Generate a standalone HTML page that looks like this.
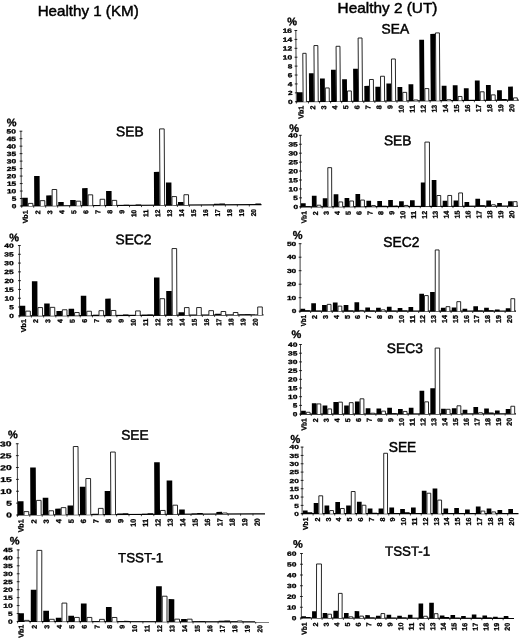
<!DOCTYPE html>
<html lang="en"><head><meta charset="utf-8"><title>Healthy 1 (KM) / Healthy 2 (UT)</title>
<style>html,body{margin:0;padding:0;background:#fff}body{width:520px;height:639px;overflow:hidden}svg text{font-family:"Liberation Sans",sans-serif}</style></head>
<body>
<svg width="520" height="639" viewBox="0 0 520 639" style="display:block">
<rect width="520" height="639" fill="#fff"/>
<text x="37.7" y="16.3" font-size="14.5" textLength="101" lengthAdjust="spacingAndGlyphs" fill="#000" stroke="#000" stroke-width="0.45">Healthy 1 (KM)</text>
<text x="337.6" y="12.6" font-size="14.5" textLength="99.8" lengthAdjust="spacingAndGlyphs" fill="#000" stroke="#000" stroke-width="0.45">Healthy 2 (UT)</text>
<g transform="rotate(-0.33 21.25 206)">
<text x="116.4" y="136.9" font-size="13.8" fill="#000" stroke="#000" stroke-width="0.45">SEB</text>
<text x="17" y="126.1" font-size="11" font-weight="bold" text-anchor="end" fill="#000" stroke="#000" stroke-width="0.3">%</text>
<path d="M21.35 130.9V206" stroke="#111" stroke-width="0.8" fill="none"/>
<text x="16.4" y="208.2" font-size="6" font-weight="bold" text-anchor="end" textLength="4.61" lengthAdjust="spacingAndGlyphs" fill="#000" stroke="#000" stroke-width="0.3">0</text>
<text x="16.4" y="200.72" font-size="6" font-weight="bold" text-anchor="end" textLength="4.61" lengthAdjust="spacingAndGlyphs" fill="#000" stroke="#000" stroke-width="0.3">5</text>
<text x="16.4" y="193.24" font-size="6" font-weight="bold" text-anchor="end" textLength="9.4" lengthAdjust="spacingAndGlyphs" fill="#000" stroke="#000" stroke-width="0.3">10</text>
<text x="16.4" y="185.76" font-size="6" font-weight="bold" text-anchor="end" textLength="9.4" lengthAdjust="spacingAndGlyphs" fill="#000" stroke="#000" stroke-width="0.3">15</text>
<text x="16.4" y="178.28" font-size="6" font-weight="bold" text-anchor="end" textLength="9.4" lengthAdjust="spacingAndGlyphs" fill="#000" stroke="#000" stroke-width="0.3">20</text>
<text x="16.4" y="170.8" font-size="6" font-weight="bold" text-anchor="end" textLength="9.4" lengthAdjust="spacingAndGlyphs" fill="#000" stroke="#000" stroke-width="0.3">25</text>
<text x="16.4" y="163.32" font-size="6" font-weight="bold" text-anchor="end" textLength="9.4" lengthAdjust="spacingAndGlyphs" fill="#000" stroke="#000" stroke-width="0.3">30</text>
<text x="16.4" y="155.84" font-size="6" font-weight="bold" text-anchor="end" textLength="9.4" lengthAdjust="spacingAndGlyphs" fill="#000" stroke="#000" stroke-width="0.3">35</text>
<text x="16.4" y="148.36" font-size="6" font-weight="bold" text-anchor="end" textLength="9.4" lengthAdjust="spacingAndGlyphs" fill="#000" stroke="#000" stroke-width="0.3">40</text>
<text x="16.4" y="140.88" font-size="6" font-weight="bold" text-anchor="end" textLength="9.4" lengthAdjust="spacingAndGlyphs" fill="#000" stroke="#000" stroke-width="0.3">45</text>
<text x="16.4" y="133.4" font-size="6" font-weight="bold" text-anchor="end" textLength="9.4" lengthAdjust="spacingAndGlyphs" fill="#000" stroke="#000" stroke-width="0.3">50</text>
<path d="M19.95 206h2.8M19.95 198.52h2.8M19.95 191.04h2.8M19.95 183.56h2.8M19.95 176.08h2.8M19.95 168.6h2.8M19.95 161.12h2.8M19.95 153.64h2.8M19.95 146.16h2.8M19.95 138.68h2.8M19.95 131.2h2.8" stroke="#111" stroke-width="0.9" fill="none"/>
<path d="M20.85 206H261.5" stroke="#000" stroke-width="1.2" fill="none"/>
<text transform="translate(27.7 210.4) rotate(-90)" font-size="7.0" font-weight="bold" text-anchor="end" textLength="13" lengthAdjust="spacingAndGlyphs" fill="#000" stroke="#000" stroke-width="0.3">Vb1</text>
<text transform="translate(40.28 210.4) rotate(-90)" font-size="7.0" font-weight="bold" text-anchor="end" fill="#000" stroke="#000" stroke-width="0.3">2</text>
<text transform="translate(52.26 210.4) rotate(-90)" font-size="7.0" font-weight="bold" text-anchor="end" fill="#000" stroke="#000" stroke-width="0.3">3</text>
<text transform="translate(64.24 210.4) rotate(-90)" font-size="7.0" font-weight="bold" text-anchor="end" fill="#000" stroke="#000" stroke-width="0.3">4</text>
<text transform="translate(76.22 210.4) rotate(-90)" font-size="7.0" font-weight="bold" text-anchor="end" fill="#000" stroke="#000" stroke-width="0.3">5</text>
<text transform="translate(88.2 210.4) rotate(-90)" font-size="7.0" font-weight="bold" text-anchor="end" fill="#000" stroke="#000" stroke-width="0.3">6</text>
<text transform="translate(100.18 210.4) rotate(-90)" font-size="7.0" font-weight="bold" text-anchor="end" fill="#000" stroke="#000" stroke-width="0.3">7</text>
<text transform="translate(112.16 210.4) rotate(-90)" font-size="7.0" font-weight="bold" text-anchor="end" fill="#000" stroke="#000" stroke-width="0.3">8</text>
<text transform="translate(124.14 210.4) rotate(-90)" font-size="7.0" font-weight="bold" text-anchor="end" fill="#000" stroke="#000" stroke-width="0.3">9</text>
<text transform="translate(136.12 210.4) rotate(-90)" font-size="7.0" font-weight="bold" text-anchor="end" textLength="7.3" lengthAdjust="spacingAndGlyphs" fill="#000" stroke="#000" stroke-width="0.3">10</text>
<text transform="translate(148.1 210.4) rotate(-90)" font-size="7.0" font-weight="bold" text-anchor="end" textLength="7.3" lengthAdjust="spacingAndGlyphs" fill="#000" stroke="#000" stroke-width="0.3">11</text>
<text transform="translate(160.08 210.4) rotate(-90)" font-size="7.0" font-weight="bold" text-anchor="end" textLength="7.3" lengthAdjust="spacingAndGlyphs" fill="#000" stroke="#000" stroke-width="0.3">12</text>
<text transform="translate(172.06 210.4) rotate(-90)" font-size="7.0" font-weight="bold" text-anchor="end" textLength="7.3" lengthAdjust="spacingAndGlyphs" fill="#000" stroke="#000" stroke-width="0.3">13</text>
<text transform="translate(184.04 210.4) rotate(-90)" font-size="7.0" font-weight="bold" text-anchor="end" textLength="7.3" lengthAdjust="spacingAndGlyphs" fill="#000" stroke="#000" stroke-width="0.3">14</text>
<text transform="translate(196.02 210.4) rotate(-90)" font-size="7.0" font-weight="bold" text-anchor="end" textLength="7.3" lengthAdjust="spacingAndGlyphs" fill="#000" stroke="#000" stroke-width="0.3">15</text>
<text transform="translate(208 210.4) rotate(-90)" font-size="7.0" font-weight="bold" text-anchor="end" textLength="7.3" lengthAdjust="spacingAndGlyphs" fill="#000" stroke="#000" stroke-width="0.3">16</text>
<text transform="translate(219.98 210.4) rotate(-90)" font-size="7.0" font-weight="bold" text-anchor="end" textLength="7.3" lengthAdjust="spacingAndGlyphs" fill="#000" stroke="#000" stroke-width="0.3">17</text>
<text transform="translate(231.96 210.4) rotate(-90)" font-size="7.0" font-weight="bold" text-anchor="end" textLength="7.3" lengthAdjust="spacingAndGlyphs" fill="#000" stroke="#000" stroke-width="0.3">18</text>
<text transform="translate(243.94 210.4) rotate(-90)" font-size="7.0" font-weight="bold" text-anchor="end" textLength="7.3" lengthAdjust="spacingAndGlyphs" fill="#000" stroke="#000" stroke-width="0.3">19</text>
<text transform="translate(255.92 210.4) rotate(-90)" font-size="7.0" font-weight="bold" text-anchor="end" textLength="7.3" lengthAdjust="spacingAndGlyphs" fill="#000" stroke="#000" stroke-width="0.3">20</text>
<path d="M22.3 206h5.5v-8.23h-5.5zM34.28 206h5.5v-29.92h-5.5zM46.26 206h5.5v-10.47h-5.5zM58.24 206h5.5v-3.74h-5.5zM70.22 206h5.5v-5.68h-5.5zM82.2 206h5.5v-17.5h-5.5zM106.16 206h5.5v-14.51h-5.5zM118.14 206h5.5v-0.45h-5.5zM123.64 206h5.5v-0.75h-5.5zM130.12 206h5.5v-0.45h-5.5zM135.62 206h5.5v-0.75h-5.5zM154.08 206h5.5v-33.36h-5.5zM166.06 206h5.5v-22.74h-5.5zM178.04 206h5.5v-2.99h-5.5zM213.98 206h5.5v-1.05h-5.5zM219.48 206h5.5v-1.35h-5.5zM255.42 206h5.5v-1.05h-5.5z" fill="#000"/>
<path d="M28.25 206v-2.54h4.6V206M40.23 206v-5.23h4.6V206M52.21 206v-16.31h4.6V206M76.17 206v-4.49h4.6V206M88.15 206v-10.77h4.6V206M100.13 206v-6.28h4.6V206M112.11 206v-5.09h4.6V206M160.03 206v-76.29h4.6V206M172.01 206v-8.53h4.6V206M183.99 206v-10.32h4.6V206" fill="#fff" stroke="#111" stroke-width="0.9"/>
<path d="M21.7 206v1.8M33.68 206v1.8M45.66 206v1.8M57.64 206v1.8M69.62 206v1.8M81.6 206v1.8M93.58 206v1.8M105.56 206v1.8M117.54 206v1.8M129.52 206v1.8M141.5 206v1.8M153.48 206v1.8M165.46 206v1.8M177.44 206v1.8M189.42 206v1.8M201.4 206v1.8M213.38 206v1.8M225.36 206v1.8M237.34 206v1.8M249.32 206v1.8" stroke="#111" stroke-width="0.8" fill="none"/>
</g>
<g transform="rotate(-0.2 19.5 315.8)">
<text x="115.7" y="244.6" font-size="13.8" fill="#000" stroke="#000" stroke-width="0.45">SEC2</text>
<text x="19.4" y="241.3" font-size="11" font-weight="bold" text-anchor="end" fill="#000" stroke="#000" stroke-width="0.3">%</text>
<path d="M19.6 245.2V315.8" stroke="#111" stroke-width="0.8" fill="none"/>
<text x="13.9" y="318" font-size="6" font-weight="bold" text-anchor="end" textLength="4.61" lengthAdjust="spacingAndGlyphs" fill="#000" stroke="#000" stroke-width="0.3">0</text>
<text x="13.9" y="309.21" font-size="6" font-weight="bold" text-anchor="end" textLength="4.61" lengthAdjust="spacingAndGlyphs" fill="#000" stroke="#000" stroke-width="0.3">5</text>
<text x="13.9" y="300.43" font-size="6" font-weight="bold" text-anchor="end" textLength="9.4" lengthAdjust="spacingAndGlyphs" fill="#000" stroke="#000" stroke-width="0.3">10</text>
<text x="13.9" y="291.64" font-size="6" font-weight="bold" text-anchor="end" textLength="9.4" lengthAdjust="spacingAndGlyphs" fill="#000" stroke="#000" stroke-width="0.3">15</text>
<text x="13.9" y="282.85" font-size="6" font-weight="bold" text-anchor="end" textLength="9.4" lengthAdjust="spacingAndGlyphs" fill="#000" stroke="#000" stroke-width="0.3">20</text>
<text x="13.9" y="274.06" font-size="6" font-weight="bold" text-anchor="end" textLength="9.4" lengthAdjust="spacingAndGlyphs" fill="#000" stroke="#000" stroke-width="0.3">25</text>
<text x="13.9" y="265.27" font-size="6" font-weight="bold" text-anchor="end" textLength="9.4" lengthAdjust="spacingAndGlyphs" fill="#000" stroke="#000" stroke-width="0.3">30</text>
<text x="13.9" y="256.49" font-size="6" font-weight="bold" text-anchor="end" textLength="9.4" lengthAdjust="spacingAndGlyphs" fill="#000" stroke="#000" stroke-width="0.3">35</text>
<text x="13.9" y="247.7" font-size="6" font-weight="bold" text-anchor="end" textLength="9.4" lengthAdjust="spacingAndGlyphs" fill="#000" stroke="#000" stroke-width="0.3">40</text>
<path d="M18.2 315.8h2.8M18.2 307.01h2.8M18.2 298.23h2.8M18.2 289.44h2.8M18.2 280.65h2.8M18.2 271.86h2.8M18.2 263.07h2.8M18.2 254.29h2.8M18.2 245.5h2.8" stroke="#111" stroke-width="0.9" fill="none"/>
<path d="M19.1 315.8H263.5" stroke="#000" stroke-width="1.2" fill="none"/>
<text transform="translate(25.9 319.2) rotate(-90)" font-size="7.0" font-weight="bold" text-anchor="end" textLength="13" lengthAdjust="spacingAndGlyphs" fill="#000" stroke="#000" stroke-width="0.3">Vb1</text>
<text transform="translate(38.01 319.2) rotate(-90)" font-size="7.0" font-weight="bold" text-anchor="end" fill="#000" stroke="#000" stroke-width="0.3">2</text>
<text transform="translate(50.22 319.2) rotate(-90)" font-size="7.0" font-weight="bold" text-anchor="end" fill="#000" stroke="#000" stroke-width="0.3">3</text>
<text transform="translate(62.43 319.2) rotate(-90)" font-size="7.0" font-weight="bold" text-anchor="end" fill="#000" stroke="#000" stroke-width="0.3">4</text>
<text transform="translate(74.64 319.2) rotate(-90)" font-size="7.0" font-weight="bold" text-anchor="end" fill="#000" stroke="#000" stroke-width="0.3">5</text>
<text transform="translate(86.85 319.2) rotate(-90)" font-size="7.0" font-weight="bold" text-anchor="end" fill="#000" stroke="#000" stroke-width="0.3">6</text>
<text transform="translate(99.06 319.2) rotate(-90)" font-size="7.0" font-weight="bold" text-anchor="end" fill="#000" stroke="#000" stroke-width="0.3">7</text>
<text transform="translate(111.27 319.2) rotate(-90)" font-size="7.0" font-weight="bold" text-anchor="end" fill="#000" stroke="#000" stroke-width="0.3">8</text>
<text transform="translate(123.48 319.2) rotate(-90)" font-size="7.0" font-weight="bold" text-anchor="end" fill="#000" stroke="#000" stroke-width="0.3">9</text>
<text transform="translate(135.69 319.2) rotate(-90)" font-size="7.0" font-weight="bold" text-anchor="end" textLength="7.3" lengthAdjust="spacingAndGlyphs" fill="#000" stroke="#000" stroke-width="0.3">10</text>
<text transform="translate(147.9 319.2) rotate(-90)" font-size="7.0" font-weight="bold" text-anchor="end" textLength="7.3" lengthAdjust="spacingAndGlyphs" fill="#000" stroke="#000" stroke-width="0.3">11</text>
<text transform="translate(160.11 319.2) rotate(-90)" font-size="7.0" font-weight="bold" text-anchor="end" textLength="7.3" lengthAdjust="spacingAndGlyphs" fill="#000" stroke="#000" stroke-width="0.3">12</text>
<text transform="translate(172.32 319.2) rotate(-90)" font-size="7.0" font-weight="bold" text-anchor="end" textLength="7.3" lengthAdjust="spacingAndGlyphs" fill="#000" stroke="#000" stroke-width="0.3">13</text>
<text transform="translate(184.53 319.2) rotate(-90)" font-size="7.0" font-weight="bold" text-anchor="end" textLength="7.3" lengthAdjust="spacingAndGlyphs" fill="#000" stroke="#000" stroke-width="0.3">14</text>
<text transform="translate(196.74 319.2) rotate(-90)" font-size="7.0" font-weight="bold" text-anchor="end" textLength="7.3" lengthAdjust="spacingAndGlyphs" fill="#000" stroke="#000" stroke-width="0.3">15</text>
<text transform="translate(208.95 319.2) rotate(-90)" font-size="7.0" font-weight="bold" text-anchor="end" textLength="7.3" lengthAdjust="spacingAndGlyphs" fill="#000" stroke="#000" stroke-width="0.3">16</text>
<text transform="translate(221.16 319.2) rotate(-90)" font-size="7.0" font-weight="bold" text-anchor="end" textLength="7.3" lengthAdjust="spacingAndGlyphs" fill="#000" stroke="#000" stroke-width="0.3">17</text>
<text transform="translate(233.37 319.2) rotate(-90)" font-size="7.0" font-weight="bold" text-anchor="end" textLength="7.3" lengthAdjust="spacingAndGlyphs" fill="#000" stroke="#000" stroke-width="0.3">18</text>
<text transform="translate(245.58 319.2) rotate(-90)" font-size="7.0" font-weight="bold" text-anchor="end" textLength="7.3" lengthAdjust="spacingAndGlyphs" fill="#000" stroke="#000" stroke-width="0.3">19</text>
<text transform="translate(257.79 319.2) rotate(-90)" font-size="7.0" font-weight="bold" text-anchor="end" textLength="7.3" lengthAdjust="spacingAndGlyphs" fill="#000" stroke="#000" stroke-width="0.3">20</text>
<path d="M19.8 315.8h5.5v-10.02h-5.5zM32.01 315.8h5.5v-34.45h-5.5zM44.22 315.8h5.5v-12.3h-5.5zM56.43 315.8h5.5v-4.75h-5.5zM68.64 315.8h5.5v-6.85h-5.5zM80.85 315.8h5.5v-19.86h-5.5zM93.06 315.8h5.5v-0.88h-5.5zM105.27 315.8h5.5v-16.87h-5.5zM117.48 315.8h5.5v-0.53h-5.5zM122.98 315.8h5.5v-0.83h-5.5zM141.9 315.8h5.5v-0.53h-5.5zM147.4 315.8h5.5v-0.83h-5.5zM154.11 315.8h5.5v-37.79h-5.5zM166.32 315.8h5.5v-24.25h-5.5zM178.53 315.8h5.5v-2.99h-5.5zM215.16 315.8h5.5v-1.41h-5.5zM239.58 315.8h5.5v-0.53h-5.5zM245.08 315.8h5.5v-0.83h-5.5z" fill="#000"/>
<path d="M25.75 315.8v-4.65h4.6V315.8M37.96 315.8v-8.16h4.6V315.8M50.17 315.8v-8.34h4.6V315.8M62.38 315.8v-5.88h4.6V315.8M74.59 315.8v-3.07h4.6V315.8M86.8 315.8v-4.3h4.6V315.8M99.01 315.8v-4.82h4.6V315.8M111.22 315.8v-5h4.6V315.8M135.64 315.8v-4.47h4.6V315.8M160.06 315.8v-16.6h4.6V315.8M172.27 315.8v-66.69h4.6V315.8M184.48 315.8v-7.63h4.6V315.8M196.69 315.8v-7.63h4.6V315.8M208.9 315.8v-4.47h4.6V315.8M221.11 315.8v-3.59h4.6V315.8M233.32 315.8v-2.54h4.6V315.8M257.74 315.8v-7.99h4.6V315.8" fill="#fff" stroke="#111" stroke-width="0.9"/>
<path d="M19.2 315.8v1.8M31.41 315.8v1.8M43.62 315.8v1.8M55.83 315.8v1.8M68.04 315.8v1.8M80.25 315.8v1.8M92.46 315.8v1.8M104.67 315.8v1.8M116.88 315.8v1.8M129.09 315.8v1.8M141.3 315.8v1.8M153.51 315.8v1.8M165.72 315.8v1.8M177.93 315.8v1.8M190.14 315.8v1.8M202.35 315.8v1.8M214.56 315.8v1.8M226.77 315.8v1.8M238.98 315.8v1.8M251.19 315.8v1.8" stroke="#111" stroke-width="0.8" fill="none"/>
</g>
<g transform="rotate(-0.28 17.5 515)">
<text x="121.5" y="440.3" font-size="13.8" fill="#000" stroke="#000" stroke-width="0.45">SEE</text>
<text x="18.1" y="438.2" font-size="11" font-weight="bold" text-anchor="end" fill="#000" stroke="#000" stroke-width="0.3">%</text>
<path d="M17.6 443.45V515" stroke="#111" stroke-width="0.8" fill="none"/>
<text x="11.9" y="517.57" font-size="7.0" font-weight="bold" text-anchor="end" textLength="5.63" lengthAdjust="spacingAndGlyphs" fill="#000" stroke="#000" stroke-width="0.3">0</text>
<text x="11.9" y="505.69" font-size="7.0" font-weight="bold" text-anchor="end" textLength="5.63" lengthAdjust="spacingAndGlyphs" fill="#000" stroke="#000" stroke-width="0.3">5</text>
<text x="11.9" y="493.82" font-size="7.0" font-weight="bold" text-anchor="end" textLength="11.5" lengthAdjust="spacingAndGlyphs" fill="#000" stroke="#000" stroke-width="0.3">10</text>
<text x="11.9" y="481.94" font-size="7.0" font-weight="bold" text-anchor="end" textLength="11.5" lengthAdjust="spacingAndGlyphs" fill="#000" stroke="#000" stroke-width="0.3">15</text>
<text x="11.9" y="470.07" font-size="7.0" font-weight="bold" text-anchor="end" textLength="11.5" lengthAdjust="spacingAndGlyphs" fill="#000" stroke="#000" stroke-width="0.3">20</text>
<text x="11.9" y="458.19" font-size="7.0" font-weight="bold" text-anchor="end" textLength="11.5" lengthAdjust="spacingAndGlyphs" fill="#000" stroke="#000" stroke-width="0.3">25</text>
<text x="11.9" y="446.32" font-size="7.0" font-weight="bold" text-anchor="end" textLength="11.5" lengthAdjust="spacingAndGlyphs" fill="#000" stroke="#000" stroke-width="0.3">30</text>
<path d="M16.2 515h2.8M16.2 503.12h2.8M16.2 491.25h2.8M16.2 479.38h2.8M16.2 467.5h2.8M16.2 455.62h2.8M16.2 443.75h2.8" stroke="#111" stroke-width="0.9" fill="none"/>
<path d="M17.1 515H265" stroke="#000" stroke-width="1.2" fill="none"/>
<text transform="translate(23.4 519.4) rotate(-90)" font-size="7.5" font-weight="bold" text-anchor="end" textLength="13" lengthAdjust="spacingAndGlyphs" fill="#000" stroke="#000" stroke-width="0.3">Vb1</text>
<text transform="translate(36.4 519.4) rotate(-90)" font-size="7.5" font-weight="bold" text-anchor="end" fill="#000" stroke="#000" stroke-width="0.3">2</text>
<text transform="translate(48.8 519.4) rotate(-90)" font-size="7.5" font-weight="bold" text-anchor="end" fill="#000" stroke="#000" stroke-width="0.3">3</text>
<text transform="translate(61.2 519.4) rotate(-90)" font-size="7.5" font-weight="bold" text-anchor="end" fill="#000" stroke="#000" stroke-width="0.3">4</text>
<text transform="translate(73.6 519.4) rotate(-90)" font-size="7.5" font-weight="bold" text-anchor="end" fill="#000" stroke="#000" stroke-width="0.3">5</text>
<text transform="translate(86 519.4) rotate(-90)" font-size="7.5" font-weight="bold" text-anchor="end" fill="#000" stroke="#000" stroke-width="0.3">6</text>
<text transform="translate(98.4 519.4) rotate(-90)" font-size="7.5" font-weight="bold" text-anchor="end" fill="#000" stroke="#000" stroke-width="0.3">7</text>
<text transform="translate(110.8 519.4) rotate(-90)" font-size="7.5" font-weight="bold" text-anchor="end" fill="#000" stroke="#000" stroke-width="0.3">8</text>
<text transform="translate(123.2 519.4) rotate(-90)" font-size="7.5" font-weight="bold" text-anchor="end" fill="#000" stroke="#000" stroke-width="0.3">9</text>
<text transform="translate(135.6 519.4) rotate(-90)" font-size="7.5" font-weight="bold" text-anchor="end" textLength="7.9" lengthAdjust="spacingAndGlyphs" fill="#000" stroke="#000" stroke-width="0.3">10</text>
<text transform="translate(148 519.4) rotate(-90)" font-size="7.5" font-weight="bold" text-anchor="end" textLength="7.9" lengthAdjust="spacingAndGlyphs" fill="#000" stroke="#000" stroke-width="0.3">11</text>
<text transform="translate(160.4 519.4) rotate(-90)" font-size="7.5" font-weight="bold" text-anchor="end" textLength="7.9" lengthAdjust="spacingAndGlyphs" fill="#000" stroke="#000" stroke-width="0.3">12</text>
<text transform="translate(172.8 519.4) rotate(-90)" font-size="7.5" font-weight="bold" text-anchor="end" textLength="7.9" lengthAdjust="spacingAndGlyphs" fill="#000" stroke="#000" stroke-width="0.3">13</text>
<text transform="translate(185.2 519.4) rotate(-90)" font-size="7.5" font-weight="bold" text-anchor="end" textLength="7.9" lengthAdjust="spacingAndGlyphs" fill="#000" stroke="#000" stroke-width="0.3">14</text>
<text transform="translate(197.6 519.4) rotate(-90)" font-size="7.5" font-weight="bold" text-anchor="end" textLength="7.9" lengthAdjust="spacingAndGlyphs" fill="#000" stroke="#000" stroke-width="0.3">15</text>
<text transform="translate(210 519.4) rotate(-90)" font-size="7.5" font-weight="bold" text-anchor="end" textLength="7.9" lengthAdjust="spacingAndGlyphs" fill="#000" stroke="#000" stroke-width="0.3">16</text>
<text transform="translate(222.4 519.4) rotate(-90)" font-size="7.5" font-weight="bold" text-anchor="end" textLength="7.9" lengthAdjust="spacingAndGlyphs" fill="#000" stroke="#000" stroke-width="0.3">17</text>
<text transform="translate(234.8 519.4) rotate(-90)" font-size="7.5" font-weight="bold" text-anchor="end" textLength="7.9" lengthAdjust="spacingAndGlyphs" fill="#000" stroke="#000" stroke-width="0.3">18</text>
<text transform="translate(247.2 519.4) rotate(-90)" font-size="7.5" font-weight="bold" text-anchor="end" textLength="7.9" lengthAdjust="spacingAndGlyphs" fill="#000" stroke="#000" stroke-width="0.3">19</text>
<text transform="translate(259.6 519.4) rotate(-90)" font-size="7.5" font-weight="bold" text-anchor="end" textLength="7.9" lengthAdjust="spacingAndGlyphs" fill="#000" stroke="#000" stroke-width="0.3">20</text>
<path d="M18 515h5.6v-13.78h-5.6zM30.4 515h5.6v-47.5h-5.6zM42.8 515h5.6v-17.1h-5.6zM55.2 515h5.6v-6.17h-5.6zM67.6 515h5.6v-9.26h-5.6zM80 515h5.6v-28.03h-5.6zM92.4 515h5.6v-0.95h-5.6zM104.8 515h5.6v-23.51h-5.6zM117.2 515h5.6v-0.95h-5.6zM122.8 515h5.6v-1.25h-5.6zM142 515h5.6v-0.71h-5.6zM147.6 515h5.6v-1.01h-5.6zM154.4 515h5.6v-52.01h-5.6zM166.8 515h5.6v-33.73h-5.6zM179.2 515h5.6v-4.75h-5.6zM191.6 515h5.6v-0.71h-5.6zM197.2 515h5.6v-1.01h-5.6zM216.4 515h5.6v-2.14h-5.6z" fill="#000"/>
<path d="M24.05 515v-3.35h4.7V515M36.45 515v-14.51h4.7V515M48.85 515v-4.06h4.7V515M61.25 515v-7.15h4.7V515M73.65 515v-68.19h4.7V515M86.05 515v-36.12h4.7V515M98.45 515v-6.2h4.7V515M110.85 515v-62.49h4.7V515M160.45 515v-3.83h4.7V515M172.85 515v-9.05h4.7V515M222.45 515v-0.98h4.7V515" fill="#fff" stroke="#111" stroke-width="0.9"/>
<path d="M17.4 515v1.8M29.8 515v1.8M42.2 515v1.8M54.6 515v1.8M67 515v1.8M79.4 515v1.8M91.8 515v1.8M104.2 515v1.8M116.6 515v1.8M129 515v1.8M141.4 515v1.8M153.8 515v1.8M166.2 515v1.8M178.6 515v1.8M191 515v1.8M203.4 515v1.8M215.8 515v1.8M228.2 515v1.8M240.6 515v1.8M253 515v1.8" stroke="#111" stroke-width="0.8" fill="none"/>
</g>
<g transform="rotate(0.08 18 621.5)">
<text x="118" y="562" font-size="13.3" fill="#000" stroke="#000" stroke-width="0.45">TSST-1</text>
<text x="19.4" y="544.6" font-size="11" font-weight="bold" text-anchor="end" fill="#000" stroke="#000" stroke-width="0.3">%</text>
<path d="M18.1 549.6V621.5" stroke="#111" stroke-width="0.8" fill="none"/>
<text x="12.6" y="623.7" font-size="6" font-weight="bold" text-anchor="end" textLength="4.61" lengthAdjust="spacingAndGlyphs" fill="#000" stroke="#000" stroke-width="0.3">0</text>
<text x="12.6" y="615.74" font-size="6" font-weight="bold" text-anchor="end" textLength="4.61" lengthAdjust="spacingAndGlyphs" fill="#000" stroke="#000" stroke-width="0.3">5</text>
<text x="12.6" y="607.79" font-size="6" font-weight="bold" text-anchor="end" textLength="9.4" lengthAdjust="spacingAndGlyphs" fill="#000" stroke="#000" stroke-width="0.3">10</text>
<text x="12.6" y="599.83" font-size="6" font-weight="bold" text-anchor="end" textLength="9.4" lengthAdjust="spacingAndGlyphs" fill="#000" stroke="#000" stroke-width="0.3">15</text>
<text x="12.6" y="591.88" font-size="6" font-weight="bold" text-anchor="end" textLength="9.4" lengthAdjust="spacingAndGlyphs" fill="#000" stroke="#000" stroke-width="0.3">20</text>
<text x="12.6" y="583.92" font-size="6" font-weight="bold" text-anchor="end" textLength="9.4" lengthAdjust="spacingAndGlyphs" fill="#000" stroke="#000" stroke-width="0.3">25</text>
<text x="12.6" y="575.97" font-size="6" font-weight="bold" text-anchor="end" textLength="9.4" lengthAdjust="spacingAndGlyphs" fill="#000" stroke="#000" stroke-width="0.3">30</text>
<text x="12.6" y="568.01" font-size="6" font-weight="bold" text-anchor="end" textLength="9.4" lengthAdjust="spacingAndGlyphs" fill="#000" stroke="#000" stroke-width="0.3">35</text>
<text x="12.6" y="560.06" font-size="6" font-weight="bold" text-anchor="end" textLength="9.4" lengthAdjust="spacingAndGlyphs" fill="#000" stroke="#000" stroke-width="0.3">40</text>
<text x="12.6" y="552.1" font-size="6" font-weight="bold" text-anchor="end" textLength="9.4" lengthAdjust="spacingAndGlyphs" fill="#000" stroke="#000" stroke-width="0.3">45</text>
<path d="M16.7 621.5h2.8M16.7 613.54h2.8M16.7 605.59h2.8M16.7 597.63h2.8M16.7 589.68h2.8M16.7 581.72h2.8M16.7 573.77h2.8M16.7 565.81h2.8M16.7 557.86h2.8M16.7 549.9h2.8" stroke="#111" stroke-width="0.9" fill="none"/>
<path d="M17.6 621.5H269" stroke="#000" stroke-width="1.2" fill="none"/>
<text transform="translate(23.62 624.8) rotate(-90)" font-size="7.0" font-weight="bold" text-anchor="end" textLength="13" lengthAdjust="spacingAndGlyphs" fill="#000" stroke="#000" stroke-width="0.3">Vb1</text>
<text transform="translate(36.75 624.8) rotate(-90)" font-size="7.0" font-weight="bold" text-anchor="end" fill="#000" stroke="#000" stroke-width="0.3">2</text>
<text transform="translate(49.28 624.8) rotate(-90)" font-size="7.0" font-weight="bold" text-anchor="end" fill="#000" stroke="#000" stroke-width="0.3">3</text>
<text transform="translate(61.81 624.8) rotate(-90)" font-size="7.0" font-weight="bold" text-anchor="end" fill="#000" stroke="#000" stroke-width="0.3">4</text>
<text transform="translate(74.34 624.8) rotate(-90)" font-size="7.0" font-weight="bold" text-anchor="end" fill="#000" stroke="#000" stroke-width="0.3">5</text>
<text transform="translate(86.87 624.8) rotate(-90)" font-size="7.0" font-weight="bold" text-anchor="end" fill="#000" stroke="#000" stroke-width="0.3">6</text>
<text transform="translate(99.4 624.8) rotate(-90)" font-size="7.0" font-weight="bold" text-anchor="end" fill="#000" stroke="#000" stroke-width="0.3">7</text>
<text transform="translate(111.93 624.8) rotate(-90)" font-size="7.0" font-weight="bold" text-anchor="end" fill="#000" stroke="#000" stroke-width="0.3">8</text>
<text transform="translate(124.46 624.8) rotate(-90)" font-size="7.0" font-weight="bold" text-anchor="end" fill="#000" stroke="#000" stroke-width="0.3">9</text>
<text transform="translate(136.99 624.8) rotate(-90)" font-size="7.0" font-weight="bold" text-anchor="end" textLength="7.3" lengthAdjust="spacingAndGlyphs" fill="#000" stroke="#000" stroke-width="0.3">10</text>
<text transform="translate(149.52 624.8) rotate(-90)" font-size="7.0" font-weight="bold" text-anchor="end" textLength="7.3" lengthAdjust="spacingAndGlyphs" fill="#000" stroke="#000" stroke-width="0.3">11</text>
<text transform="translate(162.05 624.8) rotate(-90)" font-size="7.0" font-weight="bold" text-anchor="end" textLength="7.3" lengthAdjust="spacingAndGlyphs" fill="#000" stroke="#000" stroke-width="0.3">12</text>
<text transform="translate(174.58 624.8) rotate(-90)" font-size="7.0" font-weight="bold" text-anchor="end" textLength="7.3" lengthAdjust="spacingAndGlyphs" fill="#000" stroke="#000" stroke-width="0.3">13</text>
<text transform="translate(187.11 624.8) rotate(-90)" font-size="7.0" font-weight="bold" text-anchor="end" textLength="7.3" lengthAdjust="spacingAndGlyphs" fill="#000" stroke="#000" stroke-width="0.3">14</text>
<text transform="translate(199.64 624.8) rotate(-90)" font-size="7.0" font-weight="bold" text-anchor="end" textLength="7.3" lengthAdjust="spacingAndGlyphs" fill="#000" stroke="#000" stroke-width="0.3">15</text>
<text transform="translate(212.17 624.8) rotate(-90)" font-size="7.0" font-weight="bold" text-anchor="end" textLength="7.3" lengthAdjust="spacingAndGlyphs" fill="#000" stroke="#000" stroke-width="0.3">16</text>
<text transform="translate(224.7 624.8) rotate(-90)" font-size="7.0" font-weight="bold" text-anchor="end" textLength="7.3" lengthAdjust="spacingAndGlyphs" fill="#000" stroke="#000" stroke-width="0.3">17</text>
<text transform="translate(237.23 624.8) rotate(-90)" font-size="7.0" font-weight="bold" text-anchor="end" textLength="7.3" lengthAdjust="spacingAndGlyphs" fill="#000" stroke="#000" stroke-width="0.3">18</text>
<text transform="translate(249.76 624.8) rotate(-90)" font-size="7.0" font-weight="bold" text-anchor="end" textLength="7.3" lengthAdjust="spacingAndGlyphs" fill="#000" stroke="#000" stroke-width="0.3">19</text>
<text transform="translate(262.29 624.8) rotate(-90)" font-size="7.0" font-weight="bold" text-anchor="end" textLength="7.3" lengthAdjust="spacingAndGlyphs" fill="#000" stroke="#000" stroke-width="0.3">20</text>
<path d="M18.22 621.5h5.7v-8.27h-5.7zM30.75 621.5h5.7v-31.66h-5.7zM43.28 621.5h5.7v-10.82h-5.7zM55.81 621.5h5.7v-3.82h-5.7zM68.34 621.5h5.7v-5.89h-5.7zM80.87 621.5h5.7v-17.98h-5.7zM93.4 621.5h5.7v-0.48h-5.7zM105.93 621.5h5.7v-14.64h-5.7zM118.46 621.5h5.7v-0.48h-5.7zM124.16 621.5h5.7v-0.78h-5.7zM156.05 621.5h5.7v-35.48h-5.7zM168.58 621.5h5.7v-22.59h-5.7zM181.11 621.5h5.7v-2.7h-5.7zM193.64 621.5h5.7v-0.48h-5.7zM199.34 621.5h5.7v-0.78h-5.7zM218.7 621.5h5.7v-1.11h-5.7zM224.4 621.5h5.7v-1.41h-5.7zM231.23 621.5h5.7v-0.48h-5.7z" fill="#000"/>
<path d="M24.37 621.5v-1.14h4.8V621.5M36.9 621.5v-71.15h4.8V621.5M49.43 621.5v-2.25h4.8V621.5M61.96 621.5v-18.48h4.8V621.5M74.49 621.5v-4.16h4.8V621.5M87.02 621.5v-4.16h4.8V621.5M99.55 621.5v-2.25h4.8V621.5M112.08 621.5v-4.16h4.8V621.5M162.2 621.5v-25.49h4.8V621.5M174.73 621.5v-2.57h4.8V621.5M187.26 621.5v-2.57h4.8V621.5M237.38 621.5v-0.82h4.8V621.5" fill="#fff" stroke="#111" stroke-width="0.9"/>
<path d="M17.62 621.5v1.8M30.15 621.5v1.8M42.68 621.5v1.8M55.21 621.5v1.8M67.74 621.5v1.8M80.27 621.5v1.8M92.8 621.5v1.8M105.33 621.5v1.8M117.86 621.5v1.8M130.39 621.5v1.8M142.92 621.5v1.8M155.45 621.5v1.8M167.98 621.5v1.8M180.51 621.5v1.8M193.04 621.5v1.8M205.57 621.5v1.8M218.1 621.5v1.8M230.63 621.5v1.8M243.16 621.5v1.8M255.69 621.5v1.8" stroke="#111" stroke-width="0.8" fill="none"/>
</g>
<g transform="rotate(-0.42 296.25 101.75)">
<text x="382" y="34.3" font-size="13.8" fill="#000" stroke="#000" stroke-width="0.45">SEA</text>
<text x="297.6" y="25.2" font-size="11" font-weight="bold" text-anchor="end" fill="#000" stroke="#000" stroke-width="0.3">%</text>
<path d="M296.35 30.2V101.75" stroke="#111" stroke-width="0.8" fill="none"/>
<text x="292.6" y="103.95" font-size="6" font-weight="bold" text-anchor="end" textLength="4.61" lengthAdjust="spacingAndGlyphs" fill="#000" stroke="#000" stroke-width="0.3">0</text>
<text x="292.6" y="95.04" font-size="6" font-weight="bold" text-anchor="end" textLength="4.61" lengthAdjust="spacingAndGlyphs" fill="#000" stroke="#000" stroke-width="0.3">2</text>
<text x="292.6" y="86.14" font-size="6" font-weight="bold" text-anchor="end" textLength="4.61" lengthAdjust="spacingAndGlyphs" fill="#000" stroke="#000" stroke-width="0.3">4</text>
<text x="292.6" y="77.23" font-size="6" font-weight="bold" text-anchor="end" textLength="4.61" lengthAdjust="spacingAndGlyphs" fill="#000" stroke="#000" stroke-width="0.3">6</text>
<text x="292.6" y="68.33" font-size="6" font-weight="bold" text-anchor="end" textLength="4.61" lengthAdjust="spacingAndGlyphs" fill="#000" stroke="#000" stroke-width="0.3">8</text>
<text x="292.6" y="59.42" font-size="6" font-weight="bold" text-anchor="end" textLength="9.4" lengthAdjust="spacingAndGlyphs" fill="#000" stroke="#000" stroke-width="0.3">10</text>
<text x="292.6" y="50.51" font-size="6" font-weight="bold" text-anchor="end" textLength="9.4" lengthAdjust="spacingAndGlyphs" fill="#000" stroke="#000" stroke-width="0.3">12</text>
<text x="292.6" y="41.61" font-size="6" font-weight="bold" text-anchor="end" textLength="9.4" lengthAdjust="spacingAndGlyphs" fill="#000" stroke="#000" stroke-width="0.3">14</text>
<text x="292.6" y="32.7" font-size="6" font-weight="bold" text-anchor="end" textLength="9.4" lengthAdjust="spacingAndGlyphs" fill="#000" stroke="#000" stroke-width="0.3">16</text>
<path d="M294.95 101.75h2.8M294.95 92.84h2.8M294.95 83.94h2.8M294.95 75.03h2.8M294.95 66.12h2.8M294.95 57.22h2.8M294.95 48.31h2.8M294.95 39.41h2.8M294.95 30.5h2.8" stroke="#111" stroke-width="0.9" fill="none"/>
<path d="M295.85 101.75H518.8" stroke="#000" stroke-width="1.2" fill="none"/>
<text transform="translate(303.44 105.75) rotate(-90)" font-size="7.2" font-weight="bold" text-anchor="end" textLength="13" lengthAdjust="spacingAndGlyphs" fill="#000" stroke="#000" stroke-width="0.3">Vb1</text>
<text transform="translate(315.1 105.75) rotate(-90)" font-size="7.2" font-weight="bold" text-anchor="end" fill="#000" stroke="#000" stroke-width="0.3">2</text>
<text transform="translate(326.16 105.75) rotate(-90)" font-size="7.2" font-weight="bold" text-anchor="end" fill="#000" stroke="#000" stroke-width="0.3">3</text>
<text transform="translate(337.22 105.75) rotate(-90)" font-size="7.2" font-weight="bold" text-anchor="end" fill="#000" stroke="#000" stroke-width="0.3">4</text>
<text transform="translate(348.28 105.75) rotate(-90)" font-size="7.2" font-weight="bold" text-anchor="end" fill="#000" stroke="#000" stroke-width="0.3">5</text>
<text transform="translate(359.34 105.75) rotate(-90)" font-size="7.2" font-weight="bold" text-anchor="end" fill="#000" stroke="#000" stroke-width="0.3">6</text>
<text transform="translate(370.4 105.75) rotate(-90)" font-size="7.2" font-weight="bold" text-anchor="end" fill="#000" stroke="#000" stroke-width="0.3">7</text>
<text transform="translate(381.46 105.75) rotate(-90)" font-size="7.2" font-weight="bold" text-anchor="end" fill="#000" stroke="#000" stroke-width="0.3">8</text>
<text transform="translate(392.52 105.75) rotate(-90)" font-size="7.2" font-weight="bold" text-anchor="end" fill="#000" stroke="#000" stroke-width="0.3">9</text>
<text transform="translate(403.58 105.75) rotate(-90)" font-size="7.2" font-weight="bold" text-anchor="end" textLength="7.9" lengthAdjust="spacingAndGlyphs" fill="#000" stroke="#000" stroke-width="0.3">10</text>
<text transform="translate(414.64 105.75) rotate(-90)" font-size="7.2" font-weight="bold" text-anchor="end" textLength="7.9" lengthAdjust="spacingAndGlyphs" fill="#000" stroke="#000" stroke-width="0.3">11</text>
<text transform="translate(425.7 105.75) rotate(-90)" font-size="7.2" font-weight="bold" text-anchor="end" textLength="7.9" lengthAdjust="spacingAndGlyphs" fill="#000" stroke="#000" stroke-width="0.3">12</text>
<text transform="translate(436.76 105.75) rotate(-90)" font-size="7.2" font-weight="bold" text-anchor="end" textLength="7.9" lengthAdjust="spacingAndGlyphs" fill="#000" stroke="#000" stroke-width="0.3">13</text>
<text transform="translate(447.82 105.75) rotate(-90)" font-size="7.2" font-weight="bold" text-anchor="end" textLength="7.9" lengthAdjust="spacingAndGlyphs" fill="#000" stroke="#000" stroke-width="0.3">14</text>
<text transform="translate(458.88 105.75) rotate(-90)" font-size="7.2" font-weight="bold" text-anchor="end" textLength="7.9" lengthAdjust="spacingAndGlyphs" fill="#000" stroke="#000" stroke-width="0.3">15</text>
<text transform="translate(469.94 105.75) rotate(-90)" font-size="7.2" font-weight="bold" text-anchor="end" textLength="7.9" lengthAdjust="spacingAndGlyphs" fill="#000" stroke="#000" stroke-width="0.3">16</text>
<text transform="translate(481 105.75) rotate(-90)" font-size="7.2" font-weight="bold" text-anchor="end" textLength="7.9" lengthAdjust="spacingAndGlyphs" fill="#000" stroke="#000" stroke-width="0.3">17</text>
<text transform="translate(492.06 105.75) rotate(-90)" font-size="7.2" font-weight="bold" text-anchor="end" textLength="7.9" lengthAdjust="spacingAndGlyphs" fill="#000" stroke="#000" stroke-width="0.3">18</text>
<text transform="translate(503.12 105.75) rotate(-90)" font-size="7.2" font-weight="bold" text-anchor="end" textLength="7.9" lengthAdjust="spacingAndGlyphs" fill="#000" stroke="#000" stroke-width="0.3">19</text>
<text transform="translate(514.18 105.75) rotate(-90)" font-size="7.2" font-weight="bold" text-anchor="end" textLength="7.9" lengthAdjust="spacingAndGlyphs" fill="#000" stroke="#000" stroke-width="0.3">20</text>
<path d="M297 101.75h5.7v-9.49h-5.7zM309.1 101.75h4.8v-28.48h-4.8zM320.16 101.75h4.8v-23.05h-4.8zM331.22 101.75h4.8v-31.64h-4.8zM342.28 101.75h4.8v-22.15h-4.8zM353.34 101.75h4.8v-32.54h-4.8zM364.4 101.75h4.8v-15.37h-4.8zM375.46 101.75h4.8v-14.46h-4.8zM386.52 101.75h4.8v-17.63h-4.8zM397.58 101.75h4.8v-14.01h-4.8zM408.64 101.75h4.8v-16.72h-4.8zM419.7 101.75h4.8v-61.02h-4.8zM430.76 101.75h4.8v-66.89h-4.8zM441.82 101.75h4.8v-14.92h-4.8zM452.88 101.75h4.8v-15.37h-4.8zM463.94 101.75h4.8v-12.2h-4.8zM475 101.75h4.8v-19.89h-4.8zM486.06 101.75h4.8v-15.37h-4.8zM497.12 101.75h4.8v-9.94h-4.8zM501.92 101.75h4.8v-1.2h-4.8zM508.18 101.75h4.8v-13.56h-4.8z" fill="#000"/>
<path d="M303.15 101.75v-48.37h3.3V101.75M314.35 101.75v-56.05h3.9V101.75M325.41 101.75v-13.56h3.9V101.75M336.47 101.75v-55.15h3.9V101.75M347.53 101.75v-10.4h3.9V101.75M358.59 101.75v-63.28h3.9V101.75M369.65 101.75v-21.7h3.9V101.75M380.71 101.75v-24.86h3.9V101.75M391.77 101.75v-42.04h3.9V101.75M402.83 101.75v-8.59h3.9V101.75M413.89 101.75v-0.91h3.9V101.75M424.95 101.75v-12.21h3.9V101.75M436.01 101.75v-67.8h3.9V101.75M447.07 101.75v-0.91h3.9V101.75M458.13 101.75v-4.07h3.9V101.75M480.25 101.75v-8.59h3.9V101.75M491.31 101.75v-5.43h3.9V101.75M513.43 101.75v-2.26h3.9V101.75" fill="#fff" stroke="#111" stroke-width="0.9"/>
<path d="M296.4 101.75v1.8M308.5 101.75v1.8M319.56 101.75v1.8M330.62 101.75v1.8M341.68 101.75v1.8M352.74 101.75v1.8M363.8 101.75v1.8M374.86 101.75v1.8M385.92 101.75v1.8M396.98 101.75v1.8M408.04 101.75v1.8M419.1 101.75v1.8M430.16 101.75v1.8M441.22 101.75v1.8M452.28 101.75v1.8M463.34 101.75v1.8M474.4 101.75v1.8M485.46 101.75v1.8M496.52 101.75v1.8M507.58 101.75v1.8" stroke="#111" stroke-width="0.8" fill="none"/>
</g>
<g transform="rotate(-0.2 300.5 206.8)">
<text x="384.1" y="145.5" font-size="13.8" fill="#000" stroke="#000" stroke-width="0.45">SEB</text>
<text x="299.4" y="131.9" font-size="11" font-weight="bold" text-anchor="end" fill="#000" stroke="#000" stroke-width="0.3">%</text>
<path d="M300.6 135V206.8" stroke="#111" stroke-width="0.8" fill="none"/>
<text x="298" y="209" font-size="6" font-weight="bold" text-anchor="end" textLength="4.61" lengthAdjust="spacingAndGlyphs" fill="#000" stroke="#000" stroke-width="0.3">0</text>
<text x="298" y="200.06" font-size="6" font-weight="bold" text-anchor="end" textLength="4.61" lengthAdjust="spacingAndGlyphs" fill="#000" stroke="#000" stroke-width="0.3">5</text>
<text x="298" y="191.12" font-size="6" font-weight="bold" text-anchor="end" textLength="9.4" lengthAdjust="spacingAndGlyphs" fill="#000" stroke="#000" stroke-width="0.3">10</text>
<text x="298" y="182.19" font-size="6" font-weight="bold" text-anchor="end" textLength="9.4" lengthAdjust="spacingAndGlyphs" fill="#000" stroke="#000" stroke-width="0.3">15</text>
<text x="298" y="173.25" font-size="6" font-weight="bold" text-anchor="end" textLength="9.4" lengthAdjust="spacingAndGlyphs" fill="#000" stroke="#000" stroke-width="0.3">20</text>
<text x="298" y="164.31" font-size="6" font-weight="bold" text-anchor="end" textLength="9.4" lengthAdjust="spacingAndGlyphs" fill="#000" stroke="#000" stroke-width="0.3">25</text>
<text x="298" y="155.38" font-size="6" font-weight="bold" text-anchor="end" textLength="9.4" lengthAdjust="spacingAndGlyphs" fill="#000" stroke="#000" stroke-width="0.3">30</text>
<text x="298" y="146.44" font-size="6" font-weight="bold" text-anchor="end" textLength="9.4" lengthAdjust="spacingAndGlyphs" fill="#000" stroke="#000" stroke-width="0.3">35</text>
<text x="298" y="137.5" font-size="6" font-weight="bold" text-anchor="end" textLength="9.4" lengthAdjust="spacingAndGlyphs" fill="#000" stroke="#000" stroke-width="0.3">40</text>
<path d="M299.2 206.8h2.8M299.2 197.86h2.8M299.2 188.93h2.8M299.2 179.99h2.8M299.2 171.05h2.8M299.2 162.11h2.8M299.2 153.18h2.8M299.2 144.24h2.8M299.2 135.3h2.8" stroke="#111" stroke-width="0.9" fill="none"/>
<path d="M300.1 206.8H518" stroke="#000" stroke-width="1.2" fill="none"/>
<text transform="translate(306.4 211.2) rotate(-90)" font-size="7.2" font-weight="bold" text-anchor="end" textLength="12.2" lengthAdjust="spacingAndGlyphs" fill="#000" stroke="#000" stroke-width="0.3">Vb1</text>
<text transform="translate(317.9 211.2) rotate(-90)" font-size="7.2" font-weight="bold" text-anchor="end" fill="#000" stroke="#000" stroke-width="0.3">2</text>
<text transform="translate(328.8 211.2) rotate(-90)" font-size="7.2" font-weight="bold" text-anchor="end" fill="#000" stroke="#000" stroke-width="0.3">3</text>
<text transform="translate(339.7 211.2) rotate(-90)" font-size="7.2" font-weight="bold" text-anchor="end" fill="#000" stroke="#000" stroke-width="0.3">4</text>
<text transform="translate(350.6 211.2) rotate(-90)" font-size="7.2" font-weight="bold" text-anchor="end" fill="#000" stroke="#000" stroke-width="0.3">5</text>
<text transform="translate(361.5 211.2) rotate(-90)" font-size="7.2" font-weight="bold" text-anchor="end" fill="#000" stroke="#000" stroke-width="0.3">6</text>
<text transform="translate(372.4 211.2) rotate(-90)" font-size="7.2" font-weight="bold" text-anchor="end" fill="#000" stroke="#000" stroke-width="0.3">7</text>
<text transform="translate(383.3 211.2) rotate(-90)" font-size="7.2" font-weight="bold" text-anchor="end" fill="#000" stroke="#000" stroke-width="0.3">8</text>
<text transform="translate(394.2 211.2) rotate(-90)" font-size="7.2" font-weight="bold" text-anchor="end" fill="#000" stroke="#000" stroke-width="0.3">9</text>
<text transform="translate(405.1 211.2) rotate(-90)" font-size="7.2" font-weight="bold" text-anchor="end" textLength="7.9" lengthAdjust="spacingAndGlyphs" fill="#000" stroke="#000" stroke-width="0.3">10</text>
<text transform="translate(416 211.2) rotate(-90)" font-size="7.2" font-weight="bold" text-anchor="end" textLength="7.9" lengthAdjust="spacingAndGlyphs" fill="#000" stroke="#000" stroke-width="0.3">11</text>
<text transform="translate(426.9 211.2) rotate(-90)" font-size="7.2" font-weight="bold" text-anchor="end" textLength="7.9" lengthAdjust="spacingAndGlyphs" fill="#000" stroke="#000" stroke-width="0.3">12</text>
<text transform="translate(437.8 211.2) rotate(-90)" font-size="7.2" font-weight="bold" text-anchor="end" textLength="7.9" lengthAdjust="spacingAndGlyphs" fill="#000" stroke="#000" stroke-width="0.3">13</text>
<text transform="translate(448.7 211.2) rotate(-90)" font-size="7.2" font-weight="bold" text-anchor="end" textLength="7.9" lengthAdjust="spacingAndGlyphs" fill="#000" stroke="#000" stroke-width="0.3">14</text>
<text transform="translate(459.6 211.2) rotate(-90)" font-size="7.2" font-weight="bold" text-anchor="end" textLength="7.9" lengthAdjust="spacingAndGlyphs" fill="#000" stroke="#000" stroke-width="0.3">15</text>
<text transform="translate(470.5 211.2) rotate(-90)" font-size="7.2" font-weight="bold" text-anchor="end" textLength="7.9" lengthAdjust="spacingAndGlyphs" fill="#000" stroke="#000" stroke-width="0.3">16</text>
<text transform="translate(481.4 211.2) rotate(-90)" font-size="7.2" font-weight="bold" text-anchor="end" textLength="7.9" lengthAdjust="spacingAndGlyphs" fill="#000" stroke="#000" stroke-width="0.3">17</text>
<text transform="translate(492.3 211.2) rotate(-90)" font-size="7.2" font-weight="bold" text-anchor="end" textLength="7.9" lengthAdjust="spacingAndGlyphs" fill="#000" stroke="#000" stroke-width="0.3">18</text>
<text transform="translate(503.2 211.2) rotate(-90)" font-size="7.2" font-weight="bold" text-anchor="end" textLength="7.9" lengthAdjust="spacingAndGlyphs" fill="#000" stroke="#000" stroke-width="0.3">19</text>
<text transform="translate(514.1 211.2) rotate(-90)" font-size="7.2" font-weight="bold" text-anchor="end" textLength="7.9" lengthAdjust="spacingAndGlyphs" fill="#000" stroke="#000" stroke-width="0.3">20</text>
<path d="M301 206.8h4.7v-3.58h-4.7zM305.7 206.8h4.7v-0.66h-4.7zM311.9 206.8h4.7v-11.08h-4.7zM322.8 206.8h4.7v-8.58h-4.7zM333.7 206.8h4.7v-12.33h-4.7zM344.6 206.8h4.7v-8.58h-4.7zM355.5 206.8h4.7v-12.51h-4.7zM366.4 206.8h4.7v-5.72h-4.7zM377.3 206.8h4.7v-5.54h-4.7zM382 206.8h4.7v-0.84h-4.7zM388.2 206.8h4.7v-6.44h-4.7zM392.9 206.8h4.7v-0.84h-4.7zM399.1 206.8h4.7v-5.18h-4.7zM410 206.8h4.7v-6.26h-4.7zM420.9 206.8h4.7v-23.77h-4.7zM431.8 206.8h4.7v-26.28h-4.7zM442.7 206.8h4.7v-5.54h-4.7zM453.6 206.8h4.7v-5.72h-4.7zM464.5 206.8h4.7v-4.29h-4.7zM475.4 206.8h4.7v-7.33h-4.7zM480.1 206.8h4.7v-1.02h-4.7zM486.3 206.8h4.7v-5.54h-4.7zM497.2 206.8h4.7v-3.22h-4.7zM508.1 206.8h4.7v-4.83h-4.7z" fill="#000"/>
<path d="M317.05 206.8v-1.52h3.8V206.8M327.95 206.8v-39.05h3.8V206.8M338.85 206.8v-4.73h3.8V206.8M349.75 206.8v-5.63h3.8V206.8M360.65 206.8v-6.52h3.8V206.8M371.55 206.8v-0.98h3.8V206.8M404.25 206.8v-0.98h3.8V206.8M425.15 206.8v-64.26h4.5V206.8M436.95 206.8v-10.81h3.8V206.8M447.85 206.8v-10.81h3.8V206.8M458.75 206.8v-13.31h3.8V206.8M491.45 206.8v-1.34h3.8V206.8M513.25 206.8v-4.38h3.8V206.8" fill="#fff" stroke="#111" stroke-width="0.9"/>
<path d="M300.4 206.8v1.8M311.3 206.8v1.8M322.2 206.8v1.8M333.1 206.8v1.8M344 206.8v1.8M354.9 206.8v1.8M365.8 206.8v1.8M376.7 206.8v1.8M387.6 206.8v1.8M398.5 206.8v1.8M409.4 206.8v1.8M420.3 206.8v1.8M431.2 206.8v1.8M442.1 206.8v1.8M453 206.8v1.8M463.9 206.8v1.8M474.8 206.8v1.8M485.7 206.8v1.8M496.6 206.8v1.8M507.5 206.8v1.8" stroke="#111" stroke-width="0.8" fill="none"/>
</g>
<g transform="rotate(0 300 311.2)">
<text x="383.3" y="246.7" font-size="13.8" fill="#000" stroke="#000" stroke-width="0.45">SEC2</text>
<text x="302.6" y="238.9" font-size="11" font-weight="bold" text-anchor="end" fill="#000" stroke="#000" stroke-width="0.3">%</text>
<path d="M300.1 243.4V311.2" stroke="#111" stroke-width="0.8" fill="none"/>
<text x="296.3" y="313.4" font-size="6" font-weight="bold" text-anchor="end" textLength="4.61" lengthAdjust="spacingAndGlyphs" fill="#000" stroke="#000" stroke-width="0.3">0</text>
<text x="296.3" y="299.9" font-size="6" font-weight="bold" text-anchor="end" textLength="9.4" lengthAdjust="spacingAndGlyphs" fill="#000" stroke="#000" stroke-width="0.3">10</text>
<text x="296.3" y="286.4" font-size="6" font-weight="bold" text-anchor="end" textLength="9.4" lengthAdjust="spacingAndGlyphs" fill="#000" stroke="#000" stroke-width="0.3">20</text>
<text x="296.3" y="272.9" font-size="6" font-weight="bold" text-anchor="end" textLength="9.4" lengthAdjust="spacingAndGlyphs" fill="#000" stroke="#000" stroke-width="0.3">30</text>
<text x="296.3" y="259.4" font-size="6" font-weight="bold" text-anchor="end" textLength="9.4" lengthAdjust="spacingAndGlyphs" fill="#000" stroke="#000" stroke-width="0.3">40</text>
<text x="296.3" y="245.9" font-size="6" font-weight="bold" text-anchor="end" textLength="9.4" lengthAdjust="spacingAndGlyphs" fill="#000" stroke="#000" stroke-width="0.3">50</text>
<path d="M298.7 311.2h2.8M298.7 297.7h2.8M298.7 284.2h2.8M298.7 270.7h2.8M298.7 257.2h2.8M298.7 243.7h2.8" stroke="#111" stroke-width="0.9" fill="none"/>
<path d="M299.6 311.2H516" stroke="#000" stroke-width="1.2" fill="none"/>
<text transform="translate(305.85 315) rotate(-90)" font-size="7.2" font-weight="bold" text-anchor="end" textLength="11.3" lengthAdjust="spacingAndGlyphs" fill="#000" stroke="#000" stroke-width="0.3">Vb1</text>
<text transform="translate(317.25 315) rotate(-90)" font-size="7.2" font-weight="bold" text-anchor="end" fill="#000" stroke="#000" stroke-width="0.3">2</text>
<text transform="translate(328.06 315) rotate(-90)" font-size="7.2" font-weight="bold" text-anchor="end" fill="#000" stroke="#000" stroke-width="0.3">3</text>
<text transform="translate(338.87 315) rotate(-90)" font-size="7.2" font-weight="bold" text-anchor="end" fill="#000" stroke="#000" stroke-width="0.3">4</text>
<text transform="translate(349.67 315) rotate(-90)" font-size="7.2" font-weight="bold" text-anchor="end" fill="#000" stroke="#000" stroke-width="0.3">5</text>
<text transform="translate(360.47 315) rotate(-90)" font-size="7.2" font-weight="bold" text-anchor="end" fill="#000" stroke="#000" stroke-width="0.3">6</text>
<text transform="translate(371.28 315) rotate(-90)" font-size="7.2" font-weight="bold" text-anchor="end" fill="#000" stroke="#000" stroke-width="0.3">7</text>
<text transform="translate(382.08 315) rotate(-90)" font-size="7.2" font-weight="bold" text-anchor="end" fill="#000" stroke="#000" stroke-width="0.3">8</text>
<text transform="translate(392.89 315) rotate(-90)" font-size="7.2" font-weight="bold" text-anchor="end" fill="#000" stroke="#000" stroke-width="0.3">9</text>
<text transform="translate(403.69 315) rotate(-90)" font-size="7.2" font-weight="bold" text-anchor="end" textLength="7.9" lengthAdjust="spacingAndGlyphs" fill="#000" stroke="#000" stroke-width="0.3">10</text>
<text transform="translate(414.5 315) rotate(-90)" font-size="7.2" font-weight="bold" text-anchor="end" textLength="7.9" lengthAdjust="spacingAndGlyphs" fill="#000" stroke="#000" stroke-width="0.3">11</text>
<text transform="translate(425.3 315) rotate(-90)" font-size="7.2" font-weight="bold" text-anchor="end" textLength="7.9" lengthAdjust="spacingAndGlyphs" fill="#000" stroke="#000" stroke-width="0.3">12</text>
<text transform="translate(436.11 315) rotate(-90)" font-size="7.2" font-weight="bold" text-anchor="end" textLength="7.9" lengthAdjust="spacingAndGlyphs" fill="#000" stroke="#000" stroke-width="0.3">13</text>
<text transform="translate(446.91 315) rotate(-90)" font-size="7.2" font-weight="bold" text-anchor="end" textLength="7.9" lengthAdjust="spacingAndGlyphs" fill="#000" stroke="#000" stroke-width="0.3">14</text>
<text transform="translate(457.72 315) rotate(-90)" font-size="7.2" font-weight="bold" text-anchor="end" textLength="7.9" lengthAdjust="spacingAndGlyphs" fill="#000" stroke="#000" stroke-width="0.3">15</text>
<text transform="translate(468.52 315) rotate(-90)" font-size="7.2" font-weight="bold" text-anchor="end" textLength="7.9" lengthAdjust="spacingAndGlyphs" fill="#000" stroke="#000" stroke-width="0.3">16</text>
<text transform="translate(479.33 315) rotate(-90)" font-size="7.2" font-weight="bold" text-anchor="end" textLength="7.9" lengthAdjust="spacingAndGlyphs" fill="#000" stroke="#000" stroke-width="0.3">17</text>
<text transform="translate(490.13 315) rotate(-90)" font-size="7.2" font-weight="bold" text-anchor="end" textLength="7.9" lengthAdjust="spacingAndGlyphs" fill="#000" stroke="#000" stroke-width="0.3">18</text>
<text transform="translate(500.94 315) rotate(-90)" font-size="7.2" font-weight="bold" text-anchor="end" textLength="7.9" lengthAdjust="spacingAndGlyphs" fill="#000" stroke="#000" stroke-width="0.3">19</text>
<text transform="translate(511.75 315) rotate(-90)" font-size="7.2" font-weight="bold" text-anchor="end" textLength="7.9" lengthAdjust="spacingAndGlyphs" fill="#000" stroke="#000" stroke-width="0.3">20</text>
<path d="M300.45 311.2h4.7v-2.56h-4.7zM305.15 311.2h4.7v-0.84h-4.7zM311.25 311.2h4.7v-7.97h-4.7zM315.95 311.2h4.7v-0.57h-4.7zM322.06 311.2h4.7v-6.21h-4.7zM332.87 311.2h4.7v-8.78h-4.7zM343.67 311.2h4.7v-6.21h-4.7zM348.37 311.2h4.7v-0.71h-4.7zM354.47 311.2h4.7v-9.05h-4.7zM365.28 311.2h4.7v-3.78h-4.7zM369.98 311.2h4.7v-0.71h-4.7zM376.08 311.2h4.7v-3.51h-4.7zM386.89 311.2h4.7v-4.46h-4.7zM391.59 311.2h4.7v-0.57h-4.7zM397.69 311.2h4.7v-3.24h-4.7zM402.39 311.2h4.7v-0.71h-4.7zM408.5 311.2h4.7v-4.19h-4.7zM419.3 311.2h4.7v-17.55h-4.7zM430.11 311.2h4.7v-19.31h-4.7zM440.91 311.2h4.7v-3.51h-4.7zM451.72 311.2h4.7v-3.78h-4.7zM462.52 311.2h4.7v-2.56h-4.7zM473.33 311.2h4.7v-5h-4.7zM478.03 311.2h4.7v-0.71h-4.7zM484.13 311.2h4.7v-3.51h-4.7zM488.83 311.2h4.7v-0.84h-4.7zM494.94 311.2h4.7v-1.76h-4.7zM505.75 311.2h4.7v-2.97h-4.7z" fill="#000"/>
<path d="M327.21 311.2v-6.84h3.8V311.2M338.01 311.2v-5.08h3.8V311.2M359.62 311.2v-0.77h3.8V311.2M381.23 311.2v-1.31h3.8V311.2M424.45 311.2v-15.62h3.8V311.2M435.26 311.2v-61.25h3.8V311.2M446.06 311.2v-4.55h3.8V311.2M456.87 311.2v-9.54h3.8V311.2M510.89 311.2v-12.51h3.8V311.2" fill="#fff" stroke="#111" stroke-width="0.9"/>
<path d="M299.85 311.2v1.8M310.65 311.2v1.8M321.46 311.2v1.8M332.26 311.2v1.8M343.07 311.2v1.8M353.87 311.2v1.8M364.68 311.2v1.8M375.48 311.2v1.8M386.29 311.2v1.8M397.09 311.2v1.8M407.9 311.2v1.8M418.7 311.2v1.8M429.51 311.2v1.8M440.31 311.2v1.8M451.12 311.2v1.8M461.92 311.2v1.8M472.73 311.2v1.8M483.53 311.2v1.8M494.34 311.2v1.8M505.14 311.2v1.8" stroke="#111" stroke-width="0.8" fill="none"/>
</g>
<g transform="rotate(-0.08 300.5 414.1)">
<text x="386.9" y="353.1" font-size="13.8" fill="#000" stroke="#000" stroke-width="0.45">SEC3</text>
<text x="301.3" y="338" font-size="11" font-weight="bold" text-anchor="end" fill="#000" stroke="#000" stroke-width="0.3">%</text>
<path d="M300.6 344.2V414.1" stroke="#111" stroke-width="0.8" fill="none"/>
<text x="297.5" y="416.3" font-size="6" font-weight="bold" text-anchor="end" textLength="4.61" lengthAdjust="spacingAndGlyphs" fill="#000" stroke="#000" stroke-width="0.3">0</text>
<text x="297.5" y="407.6" font-size="6" font-weight="bold" text-anchor="end" textLength="4.61" lengthAdjust="spacingAndGlyphs" fill="#000" stroke="#000" stroke-width="0.3">5</text>
<text x="297.5" y="398.9" font-size="6" font-weight="bold" text-anchor="end" textLength="9.4" lengthAdjust="spacingAndGlyphs" fill="#000" stroke="#000" stroke-width="0.3">10</text>
<text x="297.5" y="390.2" font-size="6" font-weight="bold" text-anchor="end" textLength="9.4" lengthAdjust="spacingAndGlyphs" fill="#000" stroke="#000" stroke-width="0.3">15</text>
<text x="297.5" y="381.5" font-size="6" font-weight="bold" text-anchor="end" textLength="9.4" lengthAdjust="spacingAndGlyphs" fill="#000" stroke="#000" stroke-width="0.3">20</text>
<text x="297.5" y="372.8" font-size="6" font-weight="bold" text-anchor="end" textLength="9.4" lengthAdjust="spacingAndGlyphs" fill="#000" stroke="#000" stroke-width="0.3">25</text>
<text x="297.5" y="364.1" font-size="6" font-weight="bold" text-anchor="end" textLength="9.4" lengthAdjust="spacingAndGlyphs" fill="#000" stroke="#000" stroke-width="0.3">30</text>
<text x="297.5" y="355.4" font-size="6" font-weight="bold" text-anchor="end" textLength="9.4" lengthAdjust="spacingAndGlyphs" fill="#000" stroke="#000" stroke-width="0.3">35</text>
<text x="297.5" y="346.7" font-size="6" font-weight="bold" text-anchor="end" textLength="9.4" lengthAdjust="spacingAndGlyphs" fill="#000" stroke="#000" stroke-width="0.3">40</text>
<path d="M299.2 414.1h2.8M299.2 405.4h2.8M299.2 396.7h2.8M299.2 388h2.8M299.2 379.3h2.8M299.2 370.6h2.8M299.2 361.9h2.8M299.2 353.2h2.8M299.2 344.5h2.8" stroke="#111" stroke-width="0.9" fill="none"/>
<path d="M300.1 414.1H516" stroke="#000" stroke-width="1.2" fill="none"/>
<text transform="translate(306.5 418.2) rotate(-90)" font-size="7.2" font-weight="bold" text-anchor="end" textLength="12.3" lengthAdjust="spacingAndGlyphs" fill="#000" stroke="#000" stroke-width="0.3">Vb1</text>
<text transform="translate(317.87 418.2) rotate(-90)" font-size="7.2" font-weight="bold" text-anchor="end" fill="#000" stroke="#000" stroke-width="0.3">2</text>
<text transform="translate(328.64 418.2) rotate(-90)" font-size="7.2" font-weight="bold" text-anchor="end" fill="#000" stroke="#000" stroke-width="0.3">3</text>
<text transform="translate(339.41 418.2) rotate(-90)" font-size="7.2" font-weight="bold" text-anchor="end" fill="#000" stroke="#000" stroke-width="0.3">4</text>
<text transform="translate(350.18 418.2) rotate(-90)" font-size="7.2" font-weight="bold" text-anchor="end" fill="#000" stroke="#000" stroke-width="0.3">5</text>
<text transform="translate(360.95 418.2) rotate(-90)" font-size="7.2" font-weight="bold" text-anchor="end" fill="#000" stroke="#000" stroke-width="0.3">6</text>
<text transform="translate(371.72 418.2) rotate(-90)" font-size="7.2" font-weight="bold" text-anchor="end" fill="#000" stroke="#000" stroke-width="0.3">7</text>
<text transform="translate(382.49 418.2) rotate(-90)" font-size="7.2" font-weight="bold" text-anchor="end" fill="#000" stroke="#000" stroke-width="0.3">8</text>
<text transform="translate(393.26 418.2) rotate(-90)" font-size="7.2" font-weight="bold" text-anchor="end" fill="#000" stroke="#000" stroke-width="0.3">9</text>
<text transform="translate(404.03 418.2) rotate(-90)" font-size="7.2" font-weight="bold" text-anchor="end" textLength="7.9" lengthAdjust="spacingAndGlyphs" fill="#000" stroke="#000" stroke-width="0.3">10</text>
<text transform="translate(414.8 418.2) rotate(-90)" font-size="7.2" font-weight="bold" text-anchor="end" textLength="7.9" lengthAdjust="spacingAndGlyphs" fill="#000" stroke="#000" stroke-width="0.3">11</text>
<text transform="translate(425.57 418.2) rotate(-90)" font-size="7.2" font-weight="bold" text-anchor="end" textLength="7.9" lengthAdjust="spacingAndGlyphs" fill="#000" stroke="#000" stroke-width="0.3">12</text>
<text transform="translate(436.34 418.2) rotate(-90)" font-size="7.2" font-weight="bold" text-anchor="end" textLength="7.9" lengthAdjust="spacingAndGlyphs" fill="#000" stroke="#000" stroke-width="0.3">13</text>
<text transform="translate(447.11 418.2) rotate(-90)" font-size="7.2" font-weight="bold" text-anchor="end" textLength="7.9" lengthAdjust="spacingAndGlyphs" fill="#000" stroke="#000" stroke-width="0.3">14</text>
<text transform="translate(457.88 418.2) rotate(-90)" font-size="7.2" font-weight="bold" text-anchor="end" textLength="7.9" lengthAdjust="spacingAndGlyphs" fill="#000" stroke="#000" stroke-width="0.3">15</text>
<text transform="translate(468.65 418.2) rotate(-90)" font-size="7.2" font-weight="bold" text-anchor="end" textLength="7.9" lengthAdjust="spacingAndGlyphs" fill="#000" stroke="#000" stroke-width="0.3">16</text>
<text transform="translate(479.42 418.2) rotate(-90)" font-size="7.2" font-weight="bold" text-anchor="end" textLength="7.9" lengthAdjust="spacingAndGlyphs" fill="#000" stroke="#000" stroke-width="0.3">17</text>
<text transform="translate(490.19 418.2) rotate(-90)" font-size="7.2" font-weight="bold" text-anchor="end" textLength="7.9" lengthAdjust="spacingAndGlyphs" fill="#000" stroke="#000" stroke-width="0.3">18</text>
<text transform="translate(500.96 418.2) rotate(-90)" font-size="7.2" font-weight="bold" text-anchor="end" textLength="7.9" lengthAdjust="spacingAndGlyphs" fill="#000" stroke="#000" stroke-width="0.3">19</text>
<text transform="translate(511.73 418.2) rotate(-90)" font-size="7.2" font-weight="bold" text-anchor="end" textLength="7.9" lengthAdjust="spacingAndGlyphs" fill="#000" stroke="#000" stroke-width="0.3">20</text>
<path d="M301.1 414.1h4.7v-3.31h-4.7zM311.87 414.1h4.7v-10.79h-4.7zM322.64 414.1h4.7v-8.53h-4.7zM333.41 414.1h4.7v-12.01h-4.7zM344.18 414.1h4.7v-8.53h-4.7zM354.95 414.1h4.7v-12.53h-4.7zM365.72 414.1h4.7v-5.74h-4.7zM376.49 414.1h4.7v-5.57h-4.7zM387.26 414.1h4.7v-6.26h-4.7zM391.96 414.1h4.7v-0.82h-4.7zM398.03 414.1h4.7v-5.05h-4.7zM408.8 414.1h4.7v-6.09h-4.7zM419.57 414.1h4.7v-23.14h-4.7zM430.34 414.1h4.7v-25.58h-4.7zM441.11 414.1h4.7v-5.05h-4.7zM451.88 414.1h4.7v-5.57h-4.7zM462.65 414.1h4.7v-4h-4.7zM473.42 414.1h4.7v-6.96h-4.7zM484.19 414.1h4.7v-5.22h-4.7zM488.89 414.1h4.7v-1.34h-4.7zM494.96 414.1h4.7v-3.31h-4.7zM505.73 414.1h4.7v-4.7h-4.7z" fill="#000"/>
<path d="M306.25 414.1v-1.81h3.8V414.1M317.02 414.1v-10.16h3.8V414.1M327.79 414.1v-5.12h3.8V414.1M338.56 414.1v-11.9h3.8V414.1M349.33 414.1v-11.38h3.8V414.1M360.1 414.1v-15.21h3.8V414.1M370.87 414.1v-0.77h3.8V414.1M381.64 414.1v-2.86h3.8V414.1M403.18 414.1v-2.51h3.8V414.1M424.72 414.1v-12.08h3.8V414.1M435.25 414.1v-65.84h4.5V414.1M446.26 414.1v-4.6h3.8V414.1M457.03 414.1v-8.08h3.8V414.1M478.57 414.1v-1.12h3.8V414.1M510.88 414.1v-7.55h3.8V414.1" fill="#fff" stroke="#111" stroke-width="0.9"/>
<path d="M300.5 414.1v1.8M311.27 414.1v1.8M322.04 414.1v1.8M332.81 414.1v1.8M343.58 414.1v1.8M354.35 414.1v1.8M365.12 414.1v1.8M375.89 414.1v1.8M386.66 414.1v1.8M397.43 414.1v1.8M408.2 414.1v1.8M418.97 414.1v1.8M429.74 414.1v1.8M440.51 414.1v1.8M451.28 414.1v1.8M462.05 414.1v1.8M472.82 414.1v1.8M483.59 414.1v1.8M494.36 414.1v1.8M505.13 414.1v1.8" stroke="#111" stroke-width="0.8" fill="none"/>
</g>
<g transform="rotate(0 302 513.7)">
<text x="388.7" y="451.5" font-size="13.8" fill="#000" stroke="#000" stroke-width="0.45">SEE</text>
<text x="300.2" y="443.1" font-size="11" font-weight="bold" text-anchor="end" fill="#000" stroke="#000" stroke-width="0.3">%</text>
<path d="M302.1 446.8V513.7" stroke="#111" stroke-width="0.8" fill="none"/>
<text x="298.9" y="515.9" font-size="6" font-weight="bold" text-anchor="end" textLength="4.61" lengthAdjust="spacingAndGlyphs" fill="#000" stroke="#000" stroke-width="0.3">0</text>
<text x="298.9" y="507.58" font-size="6" font-weight="bold" text-anchor="end" textLength="4.61" lengthAdjust="spacingAndGlyphs" fill="#000" stroke="#000" stroke-width="0.3">5</text>
<text x="298.9" y="499.25" font-size="6" font-weight="bold" text-anchor="end" textLength="9.4" lengthAdjust="spacingAndGlyphs" fill="#000" stroke="#000" stroke-width="0.3">10</text>
<text x="298.9" y="490.93" font-size="6" font-weight="bold" text-anchor="end" textLength="9.4" lengthAdjust="spacingAndGlyphs" fill="#000" stroke="#000" stroke-width="0.3">15</text>
<text x="298.9" y="482.6" font-size="6" font-weight="bold" text-anchor="end" textLength="9.4" lengthAdjust="spacingAndGlyphs" fill="#000" stroke="#000" stroke-width="0.3">20</text>
<text x="298.9" y="474.28" font-size="6" font-weight="bold" text-anchor="end" textLength="9.4" lengthAdjust="spacingAndGlyphs" fill="#000" stroke="#000" stroke-width="0.3">25</text>
<text x="298.9" y="465.95" font-size="6" font-weight="bold" text-anchor="end" textLength="9.4" lengthAdjust="spacingAndGlyphs" fill="#000" stroke="#000" stroke-width="0.3">30</text>
<text x="298.9" y="457.62" font-size="6" font-weight="bold" text-anchor="end" textLength="9.4" lengthAdjust="spacingAndGlyphs" fill="#000" stroke="#000" stroke-width="0.3">35</text>
<text x="298.9" y="449.3" font-size="6" font-weight="bold" text-anchor="end" textLength="9.4" lengthAdjust="spacingAndGlyphs" fill="#000" stroke="#000" stroke-width="0.3">40</text>
<path d="M300.7 513.7h2.8M300.7 505.38h2.8M300.7 497.05h2.8M300.7 488.73h2.8M300.7 480.4h2.8M300.7 472.08h2.8M300.7 463.75h2.8M300.7 455.43h2.8M300.7 447.1h2.8" stroke="#111" stroke-width="0.9" fill="none"/>
<path d="M301.6 513.7H518.5" stroke="#000" stroke-width="1.2" fill="none"/>
<text transform="translate(308.3 517.6) rotate(-90)" font-size="7.2" font-weight="bold" text-anchor="end" textLength="12.3" lengthAdjust="spacingAndGlyphs" fill="#000" stroke="#000" stroke-width="0.3">Vb1</text>
<text transform="translate(319.71 517.6) rotate(-90)" font-size="7.2" font-weight="bold" text-anchor="end" fill="#000" stroke="#000" stroke-width="0.3">2</text>
<text transform="translate(330.52 517.6) rotate(-90)" font-size="7.2" font-weight="bold" text-anchor="end" fill="#000" stroke="#000" stroke-width="0.3">3</text>
<text transform="translate(341.33 517.6) rotate(-90)" font-size="7.2" font-weight="bold" text-anchor="end" fill="#000" stroke="#000" stroke-width="0.3">4</text>
<text transform="translate(352.14 517.6) rotate(-90)" font-size="7.2" font-weight="bold" text-anchor="end" fill="#000" stroke="#000" stroke-width="0.3">5</text>
<text transform="translate(362.95 517.6) rotate(-90)" font-size="7.2" font-weight="bold" text-anchor="end" fill="#000" stroke="#000" stroke-width="0.3">6</text>
<text transform="translate(373.76 517.6) rotate(-90)" font-size="7.2" font-weight="bold" text-anchor="end" fill="#000" stroke="#000" stroke-width="0.3">7</text>
<text transform="translate(384.57 517.6) rotate(-90)" font-size="7.2" font-weight="bold" text-anchor="end" fill="#000" stroke="#000" stroke-width="0.3">8</text>
<text transform="translate(395.38 517.6) rotate(-90)" font-size="7.2" font-weight="bold" text-anchor="end" fill="#000" stroke="#000" stroke-width="0.3">9</text>
<text transform="translate(406.19 517.6) rotate(-90)" font-size="7.2" font-weight="bold" text-anchor="end" textLength="7.9" lengthAdjust="spacingAndGlyphs" fill="#000" stroke="#000" stroke-width="0.3">10</text>
<text transform="translate(417 517.6) rotate(-90)" font-size="7.2" font-weight="bold" text-anchor="end" textLength="7.9" lengthAdjust="spacingAndGlyphs" fill="#000" stroke="#000" stroke-width="0.3">11</text>
<text transform="translate(427.81 517.6) rotate(-90)" font-size="7.2" font-weight="bold" text-anchor="end" textLength="7.9" lengthAdjust="spacingAndGlyphs" fill="#000" stroke="#000" stroke-width="0.3">12</text>
<text transform="translate(438.62 517.6) rotate(-90)" font-size="7.2" font-weight="bold" text-anchor="end" textLength="7.9" lengthAdjust="spacingAndGlyphs" fill="#000" stroke="#000" stroke-width="0.3">13</text>
<text transform="translate(449.43 517.6) rotate(-90)" font-size="7.2" font-weight="bold" text-anchor="end" textLength="7.9" lengthAdjust="spacingAndGlyphs" fill="#000" stroke="#000" stroke-width="0.3">14</text>
<text transform="translate(460.24 517.6) rotate(-90)" font-size="7.2" font-weight="bold" text-anchor="end" textLength="7.9" lengthAdjust="spacingAndGlyphs" fill="#000" stroke="#000" stroke-width="0.3">15</text>
<text transform="translate(471.05 517.6) rotate(-90)" font-size="7.2" font-weight="bold" text-anchor="end" textLength="7.9" lengthAdjust="spacingAndGlyphs" fill="#000" stroke="#000" stroke-width="0.3">16</text>
<text transform="translate(481.86 517.6) rotate(-90)" font-size="7.2" font-weight="bold" text-anchor="end" textLength="7.9" lengthAdjust="spacingAndGlyphs" fill="#000" stroke="#000" stroke-width="0.3">17</text>
<text transform="translate(492.67 517.6) rotate(-90)" font-size="7.2" font-weight="bold" text-anchor="end" textLength="7.9" lengthAdjust="spacingAndGlyphs" fill="#000" stroke="#000" stroke-width="0.3">18</text>
<text transform="translate(503.48 517.6) rotate(-90)" font-size="7.2" font-weight="bold" text-anchor="end" textLength="7.9" lengthAdjust="spacingAndGlyphs" fill="#000" stroke="#000" stroke-width="0.3">19</text>
<text transform="translate(514.29 517.6) rotate(-90)" font-size="7.2" font-weight="bold" text-anchor="end" textLength="7.9" lengthAdjust="spacingAndGlyphs" fill="#000" stroke="#000" stroke-width="0.3">20</text>
<path d="M302.9 513.7h4.7v-3.09h-4.7zM307.6 513.7h4.7v-1.33h-4.7zM313.71 513.7h4.7v-10.63h-4.7zM324.52 513.7h4.7v-8.23h-4.7zM335.33 513.7h4.7v-11.66h-4.7zM346.14 513.7h4.7v-8.23h-4.7zM356.95 513.7h4.7v-12h-4.7zM367.76 513.7h4.7v-5.14h-4.7zM372.46 513.7h4.7v-0.99h-4.7zM378.57 513.7h4.7v-5.14h-4.7zM389.38 513.7h4.7v-6.17h-4.7zM394.08 513.7h4.7v-0.64h-4.7zM400.19 513.7h4.7v-4.8h-4.7zM404.89 513.7h4.7v-1.33h-4.7zM411 513.7h4.7v-6.17h-4.7zM421.81 513.7h4.7v-22.98h-4.7zM432.62 513.7h4.7v-25.21h-4.7zM443.43 513.7h4.7v-5.14h-4.7zM448.13 513.7h4.7v-0.81h-4.7zM454.24 513.7h4.7v-5.66h-4.7zM465.05 513.7h4.7v-4.12h-4.7zM475.86 513.7h4.7v-7.2h-4.7zM486.67 513.7h4.7v-5.32h-4.7zM497.48 513.7h4.7v-3.6h-4.7zM508.29 513.7h4.7v-4.63h-4.7z" fill="#000"/>
<path d="M318.86 513.7v-17.9h3.8V513.7M329.67 513.7v-3.15h3.8V513.7M340.48 513.7v-5.21h3.8V513.7M351.29 513.7v-22.19h3.8V513.7M362.1 513.7v-8.47h3.8V513.7M383.72 513.7v-60.43h3.8V513.7M426.96 513.7v-20.47h3.8V513.7M437.77 513.7v-13.61h3.8V513.7M481.01 513.7v-2.64h3.8V513.7M491.82 513.7v-1.78h3.8V513.7" fill="#fff" stroke="#111" stroke-width="0.9"/>
<path d="M302.3 513.7v1.8M313.11 513.7v1.8M323.92 513.7v1.8M334.73 513.7v1.8M345.54 513.7v1.8M356.35 513.7v1.8M367.16 513.7v1.8M377.97 513.7v1.8M388.78 513.7v1.8M399.59 513.7v1.8M410.4 513.7v1.8M421.21 513.7v1.8M432.02 513.7v1.8M442.83 513.7v1.8M453.64 513.7v1.8M464.45 513.7v1.8M475.26 513.7v1.8M486.07 513.7v1.8M496.88 513.7v1.8M507.69 513.7v1.8" stroke="#111" stroke-width="0.8" fill="none"/>
</g>
<g transform="rotate(0.12 301.25 618)">
<text x="384.9" y="555.5" font-size="13.3" fill="#000" stroke="#000" stroke-width="0.45">TSST-1</text>
<text x="302.6" y="547.9" font-size="11" font-weight="bold" text-anchor="end" fill="#000" stroke="#000" stroke-width="0.3">%</text>
<path d="M301.35 553.2V618" stroke="#111" stroke-width="0.8" fill="none"/>
<text x="296.3" y="620.2" font-size="6" font-weight="bold" text-anchor="end" textLength="4.61" lengthAdjust="spacingAndGlyphs" fill="#000" stroke="#000" stroke-width="0.3">0</text>
<text x="296.3" y="609.45" font-size="6" font-weight="bold" text-anchor="end" textLength="9.4" lengthAdjust="spacingAndGlyphs" fill="#000" stroke="#000" stroke-width="0.3">10</text>
<text x="296.3" y="598.7" font-size="6" font-weight="bold" text-anchor="end" textLength="9.4" lengthAdjust="spacingAndGlyphs" fill="#000" stroke="#000" stroke-width="0.3">20</text>
<text x="296.3" y="587.95" font-size="6" font-weight="bold" text-anchor="end" textLength="9.4" lengthAdjust="spacingAndGlyphs" fill="#000" stroke="#000" stroke-width="0.3">30</text>
<text x="296.3" y="577.2" font-size="6" font-weight="bold" text-anchor="end" textLength="9.4" lengthAdjust="spacingAndGlyphs" fill="#000" stroke="#000" stroke-width="0.3">40</text>
<text x="296.3" y="566.45" font-size="6" font-weight="bold" text-anchor="end" textLength="9.4" lengthAdjust="spacingAndGlyphs" fill="#000" stroke="#000" stroke-width="0.3">50</text>
<text x="296.3" y="555.7" font-size="6" font-weight="bold" text-anchor="end" textLength="9.4" lengthAdjust="spacingAndGlyphs" fill="#000" stroke="#000" stroke-width="0.3">60</text>
<path d="M299.95 618h2.8M299.95 607.25h2.8M299.95 596.5h2.8M299.95 585.75h2.8M299.95 575h2.8M299.95 564.25h2.8M299.95 553.5h2.8" stroke="#111" stroke-width="0.9" fill="none"/>
<path d="M300.85 618H514" stroke="#000" stroke-width="1.2" fill="none"/>
<text transform="translate(306.8 622.4) rotate(-90)" font-size="7.2" font-weight="bold" text-anchor="end" textLength="12.3" lengthAdjust="spacingAndGlyphs" fill="#000" stroke="#000" stroke-width="0.3">Vb1</text>
<text transform="translate(318.05 622.4) rotate(-90)" font-size="7.2" font-weight="bold" text-anchor="end" fill="#000" stroke="#000" stroke-width="0.3">2</text>
<text transform="translate(328.7 622.4) rotate(-90)" font-size="7.2" font-weight="bold" text-anchor="end" fill="#000" stroke="#000" stroke-width="0.3">3</text>
<text transform="translate(339.35 622.4) rotate(-90)" font-size="7.2" font-weight="bold" text-anchor="end" fill="#000" stroke="#000" stroke-width="0.3">4</text>
<text transform="translate(350 622.4) rotate(-90)" font-size="7.2" font-weight="bold" text-anchor="end" fill="#000" stroke="#000" stroke-width="0.3">5</text>
<text transform="translate(360.65 622.4) rotate(-90)" font-size="7.2" font-weight="bold" text-anchor="end" fill="#000" stroke="#000" stroke-width="0.3">6</text>
<text transform="translate(371.3 622.4) rotate(-90)" font-size="7.2" font-weight="bold" text-anchor="end" fill="#000" stroke="#000" stroke-width="0.3">7</text>
<text transform="translate(381.95 622.4) rotate(-90)" font-size="7.2" font-weight="bold" text-anchor="end" fill="#000" stroke="#000" stroke-width="0.3">8</text>
<text transform="translate(392.6 622.4) rotate(-90)" font-size="7.2" font-weight="bold" text-anchor="end" fill="#000" stroke="#000" stroke-width="0.3">9</text>
<text transform="translate(403.25 622.4) rotate(-90)" font-size="7.2" font-weight="bold" text-anchor="end" textLength="7.9" lengthAdjust="spacingAndGlyphs" fill="#000" stroke="#000" stroke-width="0.3">10</text>
<text transform="translate(413.9 622.4) rotate(-90)" font-size="7.2" font-weight="bold" text-anchor="end" textLength="7.9" lengthAdjust="spacingAndGlyphs" fill="#000" stroke="#000" stroke-width="0.3">11</text>
<text transform="translate(424.55 622.4) rotate(-90)" font-size="7.2" font-weight="bold" text-anchor="end" textLength="7.9" lengthAdjust="spacingAndGlyphs" fill="#000" stroke="#000" stroke-width="0.3">12</text>
<text transform="translate(435.2 622.4) rotate(-90)" font-size="7.2" font-weight="bold" text-anchor="end" textLength="7.9" lengthAdjust="spacingAndGlyphs" fill="#000" stroke="#000" stroke-width="0.3">13</text>
<text transform="translate(445.85 622.4) rotate(-90)" font-size="7.2" font-weight="bold" text-anchor="end" textLength="7.9" lengthAdjust="spacingAndGlyphs" fill="#000" stroke="#000" stroke-width="0.3">14</text>
<text transform="translate(456.5 622.4) rotate(-90)" font-size="7.2" font-weight="bold" text-anchor="end" textLength="7.9" lengthAdjust="spacingAndGlyphs" fill="#000" stroke="#000" stroke-width="0.3">15</text>
<text transform="translate(467.15 622.4) rotate(-90)" font-size="7.2" font-weight="bold" text-anchor="end" textLength="7.9" lengthAdjust="spacingAndGlyphs" fill="#000" stroke="#000" stroke-width="0.3">16</text>
<text transform="translate(477.8 622.4) rotate(-90)" font-size="7.2" font-weight="bold" text-anchor="end" textLength="7.9" lengthAdjust="spacingAndGlyphs" fill="#000" stroke="#000" stroke-width="0.3">17</text>
<text transform="translate(488.45 622.4) rotate(-90)" font-size="7.2" font-weight="bold" text-anchor="end" textLength="7.9" lengthAdjust="spacingAndGlyphs" fill="#000" stroke="#000" stroke-width="0.3">18</text>
<text transform="translate(499.1 622.4) rotate(-90)" font-size="7.2" font-weight="bold" text-anchor="end" textLength="7.9" lengthAdjust="spacingAndGlyphs" fill="#000" stroke="#000" stroke-width="0.3">19</text>
<text transform="translate(509.75 622.4) rotate(-90)" font-size="7.2" font-weight="bold" text-anchor="end" textLength="7.9" lengthAdjust="spacingAndGlyphs" fill="#000" stroke="#000" stroke-width="0.3">20</text>
<path d="M301.4 618h4.6v-1.72h-4.6zM306 618h4.6v-1.05h-4.6zM312.05 618h4.6v-6.77h-4.6zM322.7 618h4.6v-5.05h-4.6zM333.35 618h4.6v-7.31h-4.6zM344 618h4.6v-5.05h-4.6zM354.65 618h4.6v-6.99h-4.6zM365.3 618h4.6v-3.01h-4.6zM369.9 618h4.6v-0.62h-4.6zM375.95 618h4.6v-2.47h-4.6zM386.6 618h4.6v-3.55h-4.6zM391.2 618h4.6v-0.52h-4.6zM397.25 618h4.6v-2.47h-4.6zM401.85 618h4.6v-0.73h-4.6zM407.9 618h4.6v-3.55h-4.6zM418.55 618h4.6v-14.84h-4.6zM429.2 618h4.6v-15.59h-4.6zM439.85 618h4.6v-2.79h-4.6zM444.45 618h4.6v-1.27h-4.6zM450.5 618h4.6v-3.22h-4.6zM455.1 618h4.6v-0.62h-4.6zM461.15 618h4.6v-2.26h-4.6zM471.8 618h4.6v-3.98h-4.6zM476.4 618h4.6v-0.62h-4.6zM482.45 618h4.6v-2.79h-4.6zM487.05 618h4.6v-0.84h-4.6zM493.1 618h4.6v-1.72h-4.6zM503.75 618h4.6v-2.47h-4.6z" fill="#000"/>
<path d="M316.45 618v-54.05h4.9V618M327.75 618v-3.85h3.7V618M338.4 618v-24.7h3.7V618M349.05 618v-1.27h3.7V618M359.7 618v-2.02h3.7V618M381 618v-4.6h3.7V618M423.6 618v-2.02h3.7V618M434.25 618v-4.6h3.7V618" fill="#fff" stroke="#111" stroke-width="0.9"/>
<path d="M300.8 618v1.8M311.45 618v1.8M322.1 618v1.8M332.75 618v1.8M343.4 618v1.8M354.05 618v1.8M364.7 618v1.8M375.35 618v1.8M386 618v1.8M396.65 618v1.8M407.3 618v1.8M417.95 618v1.8M428.6 618v1.8M439.25 618v1.8M449.9 618v1.8M460.55 618v1.8M471.2 618v1.8M481.85 618v1.8M492.5 618v1.8M503.15 618v1.8" stroke="#111" stroke-width="0.8" fill="none"/>
</g>
</svg>
</body></html>
